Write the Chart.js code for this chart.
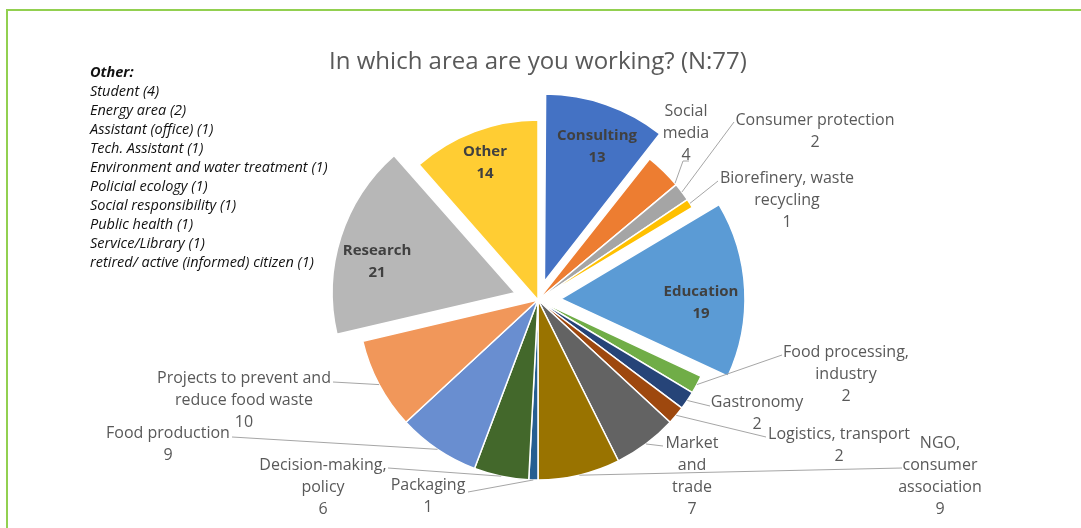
<!DOCTYPE html>
<html><head><meta charset="utf-8">
<script src="https://cdn.jsdelivr.net/npm/chart.js@4"></script>
<style>html,body{margin:0;padding:0;background:#fff;overflow:hidden}</style>
</head><body>
<canvas id="c" width="1081" height="528"></canvas>
<script>
// ---- data ----
const chartTitle = 'In which area are you working? (N:77)';
const categories = ['Consulting','Social media','Consumer protection','Biorefinery, waste recycling','Education','Food processing, industry','Gastronomy','Logistics, transport','Market and trade','NGO, consumer association','Packaging','Decision-making, policy','Food production','Projects to prevent and reduce food waste','Research','Other'];
const values = [13,4,2,1,19,2,2,2,7,9,1,6,9,10,21,14];
const otherHeading = 'Other:';
const otherItems = ['Student (4)','Energy area (2)','Assistant (office) (1)','Tech. Assistant (1)','Environment and water treatment (1)','Policial ecology (1)','Social responsibility (1)','Public health (1)','Service/Library (1)','retired/ active (informed) citizen (1)'];

// ---- styles / layout ----
const colors = ['#4472C4','#ED7D31','#A5A5A5','#FFC000','#5B9BD5','#70AD47','#264478','#9E480E','#636363','#997300','#255E91','#43682B','#698ED0','#F1975A','#B7B7B7','#FFCD33'];
const explodePx = [27,0,0,0,27,0,0,0,0,0,0,0,0,0,27,0];
const labelLayout = [
  {inside:true, x:597, y:136},
  {x:686, y:111, w:60, t:0.95, pts:[[683,161],[689,161]]},
  {x:815, y:120, w:200, pts:[[734,122]]},
  {x:787, y:178, w:150, pts:[[718,181]]},
  {inside:true, x:701, y:292},
  {x:846, y:352, w:135, pts:[[782,355]]},
  {x:757, y:402, w:120, pts:[[710,406]]},
  {x:839, y:434, w:200, pts:[[766,437]]},
  {x:692, y:443, w:55, pts:[[663,446]]},
  {x:940, y:443, w:90, pts:[[902,468]]},
  {x:428, y:485, w:120, pts:[[468,492]]},
  {x:323, y:465, w:140, pts:[[388,468]]},
  {x:168, y:433, w:150, pts:[[232,437]]},
  {x:244, y:378, w:190, pts:[[333,382]]},
  {inside:true, x:377, y:251},
  {inside:true, x:485, y:152}
];
const FONT = "'Open Sans', 'Liberation Sans', sans-serif";
const LH = 22;

// Chart.js v4 arc draws offset as offset/4*(2 - sin(min(PI,circ))); convert wanted pixel shift to option value
const total = values.reduce((a,b)=>a+b,0);
const offsetOpt = explodePx.map((px,i)=>{
  if (!px) return 0;
  const circ = values[i]/total*2*Math.PI;
  return px*4/(2 - Math.sin(Math.min(Math.PI, circ)));
});

function wrap(ctx, text, maxW){
  const words = text.split(' '); const lines = []; let cur = '';
  for (const w of words){
    const t = cur ? cur + ' ' + w : w;
    if (cur && ctx.measureText(t).width > maxW){ lines.push(cur); cur = w; } else cur = t;
  }
  if (cur) lines.push(cur);
  return lines;
}

const decor = {
  id:'decor',
  beforeDraw(chart){
    const ctx = chart.ctx;
    ctx.save();
    ctx.fillStyle = '#fff'; ctx.fillRect(0,0,chart.width,chart.height);
    ctx.restore();
  },
  afterDatasetsDraw(chart){
    const ctx = chart.ctx;
    const meta = chart.getDatasetMeta(0);
    ctx.save();
    // frame
    ctx.strokeStyle = '#92D050'; ctx.lineWidth = 2;
    ctx.beginPath(); ctx.moveTo(7, 540); ctx.lineTo(7, 10); ctx.lineTo(1090, 10); ctx.stroke();
    // title
    ctx.fillStyle = '#595959'; ctx.font = '24px ' + FONT; ctx.textAlign = 'center'; ctx.textBaseline = 'middle';
    ctx.fillText(chartTitle, 538, 62);
    // other notes
    ctx.textAlign = 'left'; ctx.fillStyle = '#111';
    ctx.font = 'italic bold 14.5px ' + FONT;
    ctx.fillText(otherHeading, 90, 73);
    ctx.font = 'italic 14.5px ' + FONT;
    otherItems.forEach((s,i)=> ctx.fillText(s, 90, 92 + i*19));
    // labels
    meta.data.forEach((arc, i)=>{
      const L = labelLayout[i];
      const val = String(values[i]);
      ctx.textAlign = 'center'; ctx.textBaseline = 'middle';
      if (L.inside){
        ctx.font = 'bold 15px ' + FONT; ctx.fillStyle = '#404040';
        ctx.fillText(categories[i], L.x, L.y);
        ctx.fillText(val, L.x, L.y + LH);
        return;
      }
      const p = arc.getProps(['x','y','startAngle','endAngle','outerRadius'], true);
      const t = L.t == null ? 0.5 : L.t;
      const a = p.startAngle + (p.endAngle - p.startAngle) * t;
      const ax = p.x + Math.cos(a) * p.outerRadius, ay = p.y + Math.sin(a) * p.outerRadius;
      ctx.strokeStyle = '#A6A6A6'; ctx.lineWidth = 1;
      ctx.beginPath(); ctx.moveTo(ax, ay);
      L.pts.forEach(q=>ctx.lineTo(q[0], q[1]));
      ctx.stroke();
      ctx.font = '16px ' + FONT; ctx.fillStyle = '#595959';
      const lines = wrap(ctx, categories[i], L.w).concat([val]);
      lines.forEach((s,k)=> ctx.fillText(s, L.x, L.y + k*LH));
    });
    ctx.restore();
  }
};

new Chart(document.getElementById('c'), {
  type:'pie',
  data:{ labels:categories, datasets:[{ data:values, backgroundColor:colors, borderColor:'#ffffff', borderWidth:1.5, offset:offsetOpt, radius:180 }] },
  options:{
    responsive:false, animation:false,
    layout:{ padding:{ top:72, left:0, right:5, bottom:0 } },
    plugins:{ legend:{display:false}, tooltip:{enabled:false}, title:{display:false} }
  },
  plugins:[decor]
});
</script>
</body></html>
